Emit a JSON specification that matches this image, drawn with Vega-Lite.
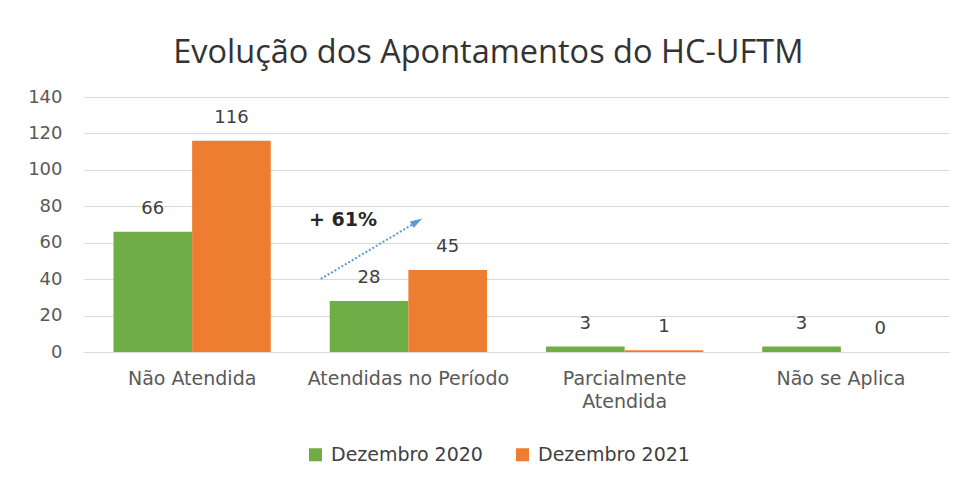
{
  "$schema": "https://vega.github.io/schema/vega-lite/v6.json",
  "width": 865,
  "height": 255,
  "padding": {"left": 27, "top": 36, "right": 19, "bottom": 8},
  "background": "white",
  "title": {
    "text": "Evolução dos Apontamentos do HC-UFTM",
    "font": "Open Sans",
    "fontSize": 32.5,
    "fontWeight": "normal",
    "color": "#333333",
    "anchor": "middle",
    "frame": "bounds",
    "offset": 19
  },
  "config": {
    "view": {"stroke": null},
    "axis": {"labelFont": "DejaVu Sans", "labelColor": "#595959", "title": null}
  },
  "datasets": {
    "bars": [
      {"categoria": "Não Atendida", "serie": "Dezembro 2020", "valor": 66},
      {"categoria": "Não Atendida", "serie": "Dezembro 2021", "valor": 116},
      {"categoria": "Atendidas no Período", "serie": "Dezembro 2020", "valor": 28},
      {"categoria": "Atendidas no Período", "serie": "Dezembro 2021", "valor": 45},
      {"categoria": "Parcialmente Atendida", "serie": "Dezembro 2020", "valor": 3},
      {"categoria": "Parcialmente Atendida", "serie": "Dezembro 2021", "valor": 1},
      {"categoria": "Não se Aplica", "serie": "Dezembro 2020", "valor": 3},
      {"categoria": "Não se Aplica", "serie": "Dezembro 2021", "valor": 0}
    ],
    "arrow": [
      {"px": 1.095, "valor": 40.1},
      {"px": 1.53, "valor": 70.8}
    ],
    "head": [
      {"px": 1.54, "valor": 71.6}
    ],
    "note": [
      {"px": 1.198, "valor": 72.5, "label": "+ 61%"}
    ]
  },
  "encoding": {
    "y": {
      "field": "valor",
      "type": "quantitative",
      "scale": {"domain": [0, 140], "nice": false},
      "axis": {
        "values": [0, 20, 40, 60, 80, 100, 120, 140],
        "labelFontSize": 18,
        "labelPadding": 22,
        "labelOverlap": false,
        "ticks": false,
        "tickSize": 0,
        "domain": false,
        "gridColor": "#D9D9D9",
        "gridWidth": 1
      }
    }
  },
  "resolve": {"scale": {"x": "independent"}},
  "layer": [
    {
      "data": {"name": "bars"},
      "encoding": {
        "x": {
          "field": "categoria",
          "type": "nominal",
          "sort": null,
          "scale": {"paddingInner": 0, "paddingOuter": 0},
          "axis": {
            "labelAngle": 0,
            "labelFontSize": 19,
            "labelPadding": 17,
            "labelLimit": 400,
            "ticks": false,
            "tickSize": 0,
            "domain": true,
            "domainColor": "#D9D9D9",
            "labelLineHeight": 23,
            "labelExpr": "datum.label == 'Parcialmente Atendida' ? ['Parcialmente', 'Atendida'] : datum.label"
          }
        },
        "xOffset": {
          "field": "serie",
          "scale": {"paddingInner": 0, "paddingOuter": 0.375}
        }
      },
      "layer": [
        {
          "mark": {"type": "bar"},
          "encoding": {
            "color": {
              "field": "serie",
              "type": "nominal",
              "scale": {"domain": ["Dezembro 2020", "Dezembro 2021"], "range": ["#70AD47", "#ED7D31"]},
              "legend": {
                "orient": "none",
                "legendX": 222,
                "legendY": 348,
                "direction": "horizontal",
                "title": null,
                "symbolType": "square",
                "symbolSize": 170,
                "symbolStrokeWidth": 0,
                "labelFont": "DejaVu Sans",
                "labelFontSize": 19,
                "labelColor": "#404040",
                "labelOffset": 6,
                "columnPadding": 30
              }
            }
          }
        },
        {
          "mark": {"type": "text", "baseline": "alphabetic", "dy": -18, "font": "DejaVu Sans", "fontSize": 18, "color": "#404040"},
          "encoding": {
            "text": {"field": "valor", "type": "quantitative"}
          }
        }
      ]
    },
    {
      "data": {"name": "arrow"},
      "mark": {"type": "line", "color": "#5B9BD5", "strokeWidth": 2, "strokeDash": [2, 2]},
      "encoding": {
        "x": {"field": "px", "type": "quantitative", "scale": {"domain": [0, 4], "nice": false, "zero": false}, "axis": null}
      }
    },
    {
      "data": {"name": "head"},
      "mark": {"type": "point", "shape": "M-0.6,1L0,-1L0.6,1Z", "filled": true, "color": "#5B9BD5", "opacity": 1, "size": 150, "angle": 58.8},
      "encoding": {
        "x": {"field": "px", "type": "quantitative", "scale": {"domain": [0, 4], "nice": false, "zero": false}, "axis": null}
      }
    },
    {
      "data": {"name": "note"},
      "mark": {"type": "text", "font": "DejaVu Sans", "fontWeight": "bold", "fontSize": 19, "color": "#262626", "baseline": "middle"},
      "encoding": {
        "x": {"field": "px", "type": "quantitative", "scale": {"domain": [0, 4], "nice": false, "zero": false}, "axis": null},
        "text": {"field": "label"}
      }
    }
  ]
}
